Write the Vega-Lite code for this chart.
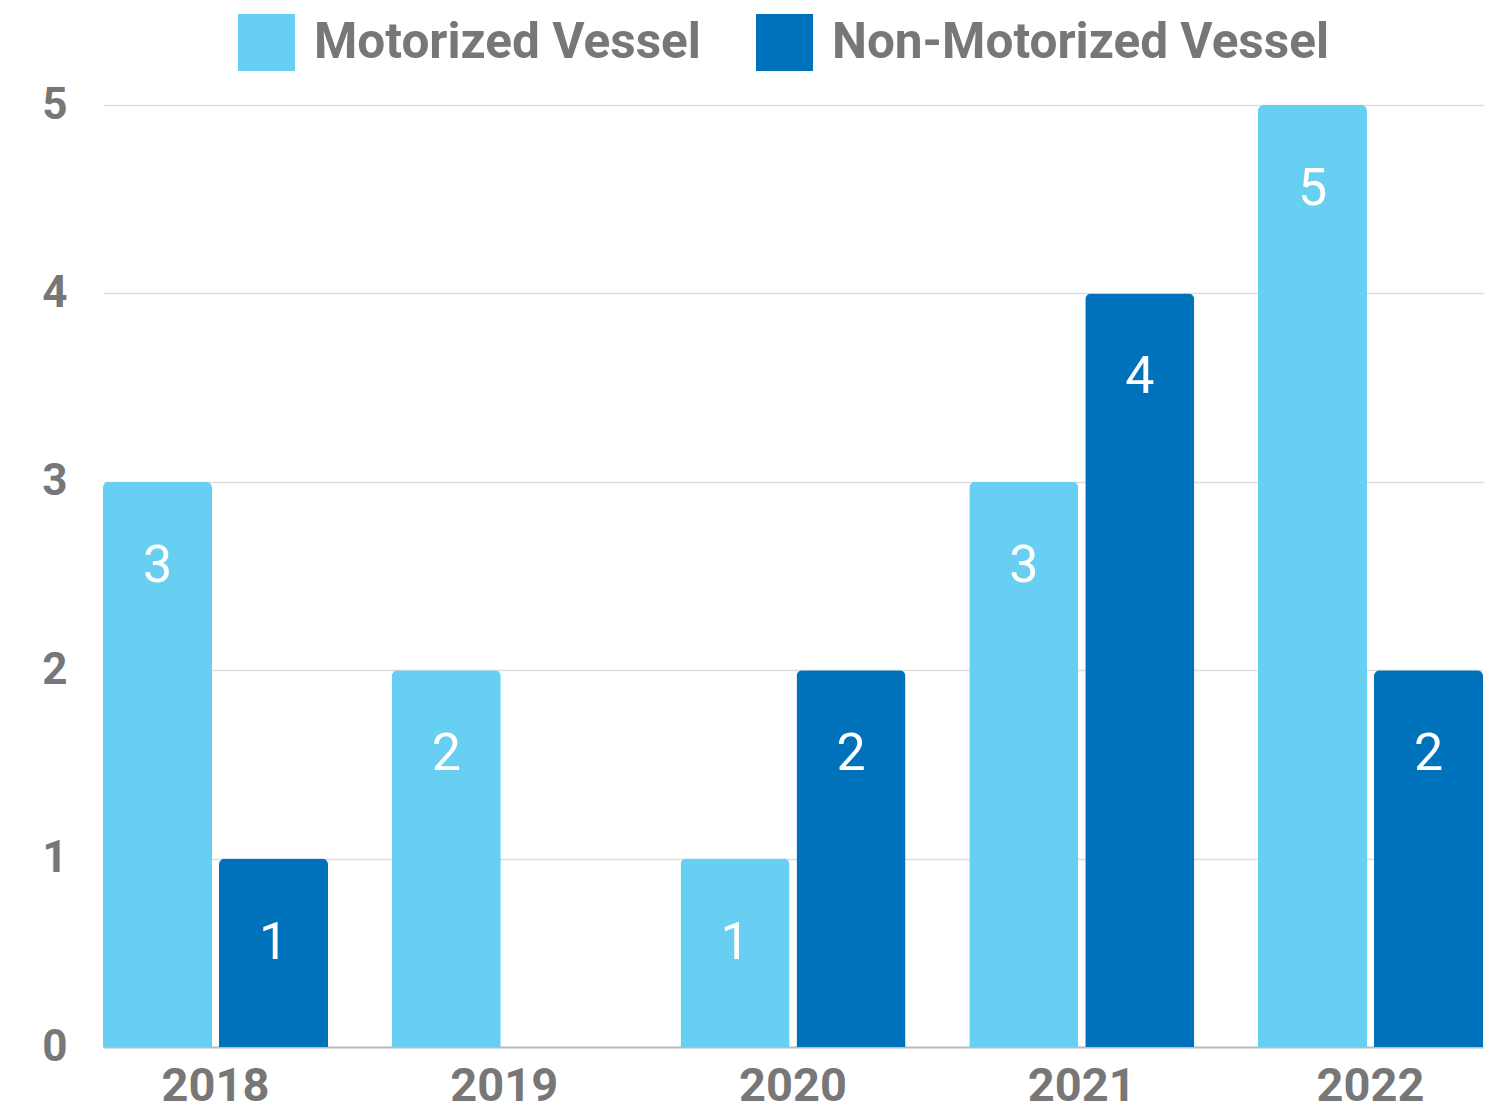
{
  "$schema": "https://vega.github.io/schema/vega-lite/v6.json",
  "width": 1380,
  "height": 942,
  "autosize": {"type": "none"},
  "padding": {"left": 103, "top": 105, "right": 13, "bottom": 67},
  "background": "white",
  "config": {"view": {"stroke": null}, "font": "Roboto"},
  "data": {
    "values": [
      {"year": "2018", "type": "Motorized Vessel", "count": 3},
      {"year": "2018", "type": "Non-Motorized Vessel", "count": 1},
      {"year": "2019", "type": "Motorized Vessel", "count": 2},
      {"year": "2019", "type": "Non-Motorized Vessel", "count": 0},
      {"year": "2020", "type": "Motorized Vessel", "count": 1},
      {"year": "2020", "type": "Non-Motorized Vessel", "count": 2},
      {"year": "2021", "type": "Motorized Vessel", "count": 3},
      {"year": "2021", "type": "Non-Motorized Vessel", "count": 4},
      {"year": "2022", "type": "Motorized Vessel", "count": 5},
      {"year": "2022", "type": "Non-Motorized Vessel", "count": 2}
    ]
  },
  "encoding": {
    "x": {
      "field": "year",
      "type": "nominal",
      "scale": {"paddingInner": 0.2208, "paddingOuter": 0},
      "axis": {
        "title": null,
        "labelAngle": 0,
        "labelFontSize": 47,
        "labelFontWeight": "bold",
        "labelColor": "#777777",
        "labelPadding": 16,
        "ticks": false,
        "domain": true,
        "domainColor": "#bbbbbb",
        "domainWidth": 2,
        "grid": false
      }
    },
    "xOffset": {
      "field": "type",
      "type": "nominal",
      "sort": ["Motorized Vessel", "Non-Motorized Vessel"],
      "scale": {"paddingInner": 0.06, "paddingOuter": 0}
    },
    "y": {
      "field": "count",
      "type": "quantitative",
      "scale": {"domain": [0, 5], "nice": false},
      "axis": {
        "title": null,
        "values": [0, 1, 2, 3, 4, 5],
        "labelOverlap": false,
        "labelFontSize": 44,
        "labelFontWeight": "bold",
        "labelColor": "#777777",
        "labelPadding": 36,
        "ticks": false,
        "domain": false,
        "grid": true,
        "gridColor": "#dddddd",
        "gridWidth": 1.5
      }
    }
  },
  "layer": [
    {
      "mark": {"type": "bar", "cornerRadiusTopLeft": 6, "cornerRadiusTopRight": 6},
      "encoding": {
        "color": {
          "field": "type",
          "type": "nominal",
          "sort": ["Motorized Vessel", "Non-Motorized Vessel"],
          "scale": {"domain": ["Motorized Vessel", "Non-Motorized Vessel"], "range": ["#67CFF2", "#0071BB"]},
          "legend": {
            "title": null,
            "orient": "none",
            "legendX": 135,
            "legendY": -91,
            "direction": "horizontal",
            "symbolType": "square",
            "symbolSize": 3249,
            "symbolStrokeWidth": 0,
            "symbolOpacity": 1,
            "labelFontSize": 49.5,
            "labelFontWeight": "bold",
            "labelColor": "#777777",
            "labelOffset": 19,
            "columnPadding": 55,
            "labelLimit": 600
          }
        }
      }
    },
    {
      "transform": [{"filter": "datum.count > 0"}],
      "mark": {"type": "text", "baseline": "middle", "align": "center", "dy": 84, "fontSize": 52, "fontWeight": 400, "color": "white"},
      "encoding": {
        "text": {"field": "count", "type": "quantitative"}
      }
    }
  ]
}
